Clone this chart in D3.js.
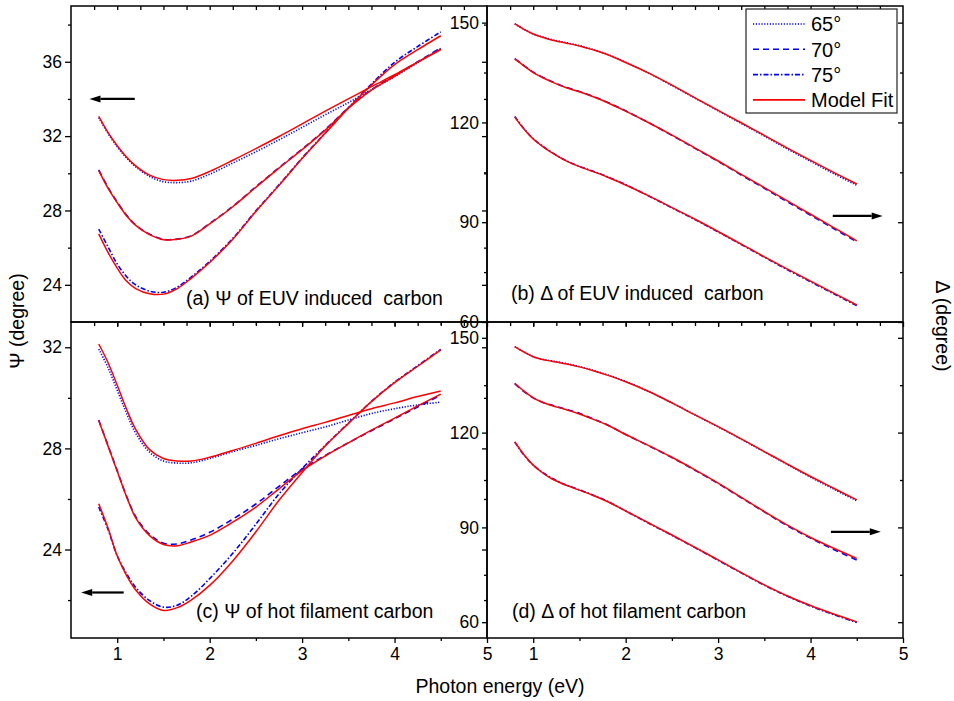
<!DOCTYPE html>
<html>
<head>
<meta charset="utf-8">
<script src="https://cdn.jsdelivr.net/npm/d3@7"></script>
<style>
  html, body { margin: 0; padding: 0; background: #fff; }
  svg { display: block; font-family: "Liberation Sans", Arial, sans-serif; }
</style>
</head>
<body>
<svg id="chart" width="954" height="701"></svg>
<script>
// Photon energies (eV) of the spectra
const energy = [0.8, 0.9, 1.0, 1.1, 1.2, 1.35, 1.5, 1.65, 1.8, 2.0, 2.25, 2.5, 2.75, 3.0, 3.25, 3.5, 3.75, 4.0, 4.25, 4.5];
const angleLabels = ["65°", "70°", "75°"];
const fitLabel = "Model Fit";
const xTickValues = [1, 2, 3, 4, 5];

// (a) Psi, EUV induced carbon: measured and fitted
const psiEuv65    = [33.0, 32.15, 31.43, 30.83, 30.35, 29.83, 29.55, 29.5, 29.58, 29.95, 30.55, 31.16, 31.8, 32.47, 33.15, 33.8, 34.5, 35.2, 35.95, 36.72];
const psiEuvFit65 = [33.06, 32.2, 31.48, 30.88, 30.4, 29.9, 29.66, 29.62, 29.72, 30.1, 30.7, 31.33, 31.98, 32.66, 33.34, 34.0, 34.66, 35.3, 35.98, 36.65];
const psiEuv70    = [30.18, 29.25, 28.45, 27.75, 27.22, 26.72, 26.45, 26.46, 26.64, 27.3, 28.22, 29.28, 30.3, 31.3, 32.35, 33.52, 34.5, 35.25, 36.0, 36.75];
const psiEuvFit70 = [30.14, 29.2, 28.42, 27.72, 27.2, 26.7, 26.43, 26.45, 26.62, 27.28, 28.2, 29.25, 30.28, 31.27, 32.32, 33.5, 34.48, 35.22, 35.98, 36.68];
const psiEuv75    = [27.0, 26.05, 25.12, 24.45, 24.0, 23.66, 23.6, 23.88, 24.42, 25.26, 26.5, 27.98, 29.38, 30.82, 32.17, 33.52, 34.8, 35.97, 36.82, 37.61];
const psiEuvFit75 = [26.74, 25.75, 24.9, 24.2, 23.8, 23.52, 23.5, 23.8, 24.35, 25.2, 26.45, 27.95, 29.35, 30.8, 32.15, 33.5, 34.75, 35.85, 36.65, 37.4];

// (b) Delta, EUV induced carbon
const deltaEuv65    = [149.6, 148.0, 146.6, 145.7, 144.9, 144.0, 143.1, 141.9, 140.5, 138.1, 134.8, 131.1, 127.3, 123.5, 119.7, 115.9, 112.0, 108.3, 104.6, 101.1];
const deltaEuvFit65 = [149.7, 148.0, 146.6, 145.6, 144.8, 143.9, 143.0, 141.8, 140.4, 138.0, 134.8, 131.2, 127.4, 123.6, 119.9, 116.1, 112.3, 108.6, 105.0, 101.5];
const deltaEuv70    = [139.2, 137.1, 135.1, 133.6, 132.3, 130.6, 129.3, 127.8, 126.1, 123.5, 119.9, 116.1, 112.2, 108.3, 104.2, 100.2, 96.1, 92.1, 88.1, 84.1];
const deltaEuvFit70 = [139.1, 137.0, 135.0, 133.5, 132.2, 130.5, 129.2, 127.7, 126.0, 123.4, 119.9, 116.2, 112.3, 108.4, 104.4, 100.4, 96.4, 92.4, 88.4, 84.4];
const deltaEuv75    = [121.8, 118.1, 115.1, 112.9, 111.0, 108.6, 106.8, 105.3, 103.7, 101.3, 97.9, 94.3, 90.8, 87.1, 83.3, 79.5, 75.7, 72.1, 68.5, 64.9];
const deltaEuvFit75 = [121.6, 118.0, 115.0, 112.8, 110.9, 108.5, 106.7, 105.2, 103.6, 101.2, 97.9, 94.4, 90.9, 87.2, 83.4, 79.6, 75.9, 72.3, 68.7, 65.1];

// (c) Psi, hot filament carbon
const psiHot65    = [31.93, 31.2, 30.3, 29.4, 28.6, 27.85, 27.5, 27.42, 27.43, 27.6, 27.87, 28.12, 28.38, 28.62, 28.85, 29.12, 29.38, 29.57, 29.72, 29.83];
const psiHotFit65 = [32.13, 31.4, 30.5, 29.56, 28.75, 27.95, 27.6, 27.5, 27.5, 27.65, 27.92, 28.2, 28.5, 28.78, 29.03, 29.3, 29.57, 29.8, 30.05, 30.27];
const psiHot70    = [29.12, 28.12, 27.12, 26.12, 25.3, 24.6, 24.25, 24.22, 24.38, 24.68, 25.2, 25.8, 26.5, 27.18, 27.72, 28.22, 28.7, 29.17, 29.64, 30.1];
const psiHotFit70 = [29.1, 28.1, 27.1, 26.1, 25.25, 24.55, 24.2, 24.15, 24.3, 24.56, 25.08, 25.68, 26.4, 27.12, 27.7, 28.22, 28.72, 29.2, 29.68, 30.15];
const psiHot75    = [25.68, 24.8, 23.75, 23.05, 22.5, 21.98, 21.72, 21.8, 22.15, 22.85, 23.85, 25.0, 26.2, 27.2, 28.12, 29.0, 29.86, 30.62, 31.27, 31.92];
const psiHotFit75 = [25.81, 24.85, 23.75, 22.98, 22.4, 21.85, 21.59, 21.7, 22.0, 22.58, 23.55, 24.7, 25.95, 27.05, 28.1, 28.98, 29.85, 30.6, 31.25, 31.9];

// (d) Delta, hot filament carbon
const deltaHot65    = [147.2, 145.5, 144.0, 143.2, 142.7, 141.9, 140.9, 139.7, 138.3, 136.2, 133.0, 129.4, 125.6, 121.8, 117.9, 113.9, 109.9, 105.9, 102.1, 98.4];
const deltaHotFit65 = [147.2, 145.5, 144.0, 143.1, 142.6, 141.8, 140.8, 139.6, 138.2, 136.1, 133.0, 129.4, 125.6, 121.9, 118.0, 114.0, 110.0, 106.1, 102.4, 98.7];
const deltaHot70    = [135.5, 133.0, 131.0, 129.6, 128.7, 127.4, 126.1, 124.3, 122.5, 119.4, 115.8, 112.1, 108.1, 103.9, 99.4, 94.9, 90.5, 86.6, 83.0, 79.7];
const deltaHotFit70 = [135.6, 133.1, 131.0, 129.6, 128.6, 127.3, 125.9, 124.2, 122.4, 119.4, 115.9, 112.2, 108.2, 104.0, 99.5, 95.0, 90.7, 86.8, 83.4, 80.2];
const deltaHot75    = [117.0, 112.9, 109.7, 107.4, 105.6, 103.5, 101.9, 100.2, 98.3, 95.2, 91.3, 87.5, 83.6, 79.6, 75.6, 71.7, 68.2, 65.1, 62.4, 59.9];
const deltaHotFit75 = [117.1, 113.0, 109.7, 107.3, 105.4, 103.4, 101.8, 100.1, 98.2, 95.2, 91.4, 87.6, 83.7, 79.7, 75.7, 71.8, 68.3, 65.3, 62.6, 60.1];

// Panel layout (pixels)
const colX = [[71, 487], [487, 903]];
const rowY = [[6, 322], [322, 638]];
const FONT_TICK = 17.5;
const FONT_TEXT = 19.5;
const BLUE = "#0000ff";
const RED = "#ff0000";
const dashStyles = ["1.2,1.6", "6,4", "5,2,1.5,2"];

const panels = [
  { col: 0, row: 0, yDomain: [22, 39], yMajor: [24, 28, 32, 36], yMinor: [26, 30, 34, 38],
    data: [psiEuv65, psiEuv70, psiEuv75], fit: [psiEuvFit65, psiEuvFit70, psiEuvFit75],
    label: "(a) \u03A8 of EUV induced  carbon", labelAt: [115, -17],
    arrow: { from: [1.19, 34.0], to: [0.7, 34.0] } },
  { col: 1, row: 0, yDomain: [60, 155], yMajor: [60, 90, 120, 150], yMinor: [75, 105, 135],
    data: [deltaEuv65, deltaEuv70, deltaEuv75], fit: [deltaEuvFit65, deltaEuvFit70, deltaEuvFit75],
    label: "(b) \u0394 of EUV induced  carbon", labelAt: [24, -22],
    arrow: { from: [4.24, 91.9], to: [4.78, 91.9] } },
  { col: 0, row: 1, yDomain: [20.5, 33], yMajor: [24, 28, 32], yMinor: [22, 26, 30],
    data: [psiHot65, psiHot70, psiHot75], fit: [psiHotFit65, psiHotFit70, psiHotFit75],
    label: "(c) \u03A8 of hot filament carbon", labelAt: [125, -20],
    arrow: { from: [1.07, 22.3], to: [0.61, 22.3] } },
  { col: 1, row: 1, yDomain: [55, 155], yMajor: [60, 90, 120, 150], yMinor: [75, 105, 135],
    data: [deltaHot65, deltaHot70, deltaHot75], fit: [deltaHotFit65, deltaHotFit70, deltaHotFit75],
    label: "(d) \u0394 of hot filament carbon", labelAt: [25, -20],
    arrow: { from: [4.22, 88.6], to: [4.76, 88.6] } }
];

const svg = d3.select("#chart");
const xMajor = xTickValues;
const xMinorBottom = [1.5, 2.5, 3.5, 4.5];
const xMinorTop = d3.range(0.75, 5.0, 0.25);

function styleAxis(g, withText) {
  g.select(".domain").remove();
  g.selectAll(".tick line").attr("stroke", "#000").attr("stroke-width", 1.3);
  if (withText) {
    g.selectAll(".tick text").attr("fill", "#000").attr("font-size", FONT_TICK)
      .attr("font-family", "Liberation Sans, Arial, sans-serif");
  } else {
    g.selectAll(".tick text").remove();
  }
}

panels.forEach(p => {
  const [x0, x1] = colX[p.col];
  const [y0, y1] = rowY[p.row];
  const x = d3.scaleLinear().domain([0.5, 5]).range([x0, x1]);
  const y = d3.scaleLinear().domain(p.yDomain).range([y1, y0]);
  const g = svg.append("g");

  // Curves: measured spectra first, model fits drawn over them
  const line = d3.line()
    .x((d, i) => x(energy[i]))
    .y(d => y(d))
    .curve(d3.curveCatmullRom.alpha(0.5));

  p.data.forEach((series, k) => {
    g.append("path").datum(series)
      .attr("d", line).attr("fill", "none")
      .attr("stroke", BLUE).attr("stroke-width", 1.6)
      .attr("stroke-dasharray", dashStyles[k]);
  });
  p.fit.forEach(series => {
    g.append("path").datum(series)
      .attr("d", line).attr("fill", "none")
      .attr("stroke", RED).attr("stroke-width", 1.5);
  });

  // Bottom axis: outward ticks, labels only on the lower row
  const bottomMajor = g.append("g").attr("transform", `translate(0,${y1})`)
    .call(d3.axisBottom(x).tickValues(xMajor).tickSize(5).tickSizeOuter(0).tickPadding(5).tickFormat(d3.format("d")));
  styleAxis(bottomMajor, p.row === 1);
  const bottomMinor = g.append("g").attr("transform", `translate(0,${y1})`)
    .call(d3.axisBottom(x).tickValues(xMinorBottom).tickSize(3).tickSizeOuter(0));
  styleAxis(bottomMinor, false);

  // Top axis: inward ticks
  const topAxis = g.append("g").attr("transform", `translate(0,${y0})`)
    .call(d3.axisTop(x).tickValues(xMinorTop).tickSize(-4).tickSizeOuter(0));
  styleAxis(topAxis, false);

  // Left axis: outward ticks with labels
  const leftMajor = g.append("g").attr("transform", `translate(${x0},0)`)
    .call(d3.axisLeft(y).tickValues(p.yMajor).tickSize(p.col === 0 ? 6 : 5).tickSizeOuter(0).tickPadding(3).tickFormat(d3.format("d")));
  styleAxis(leftMajor, true);
  const leftMinor = g.append("g").attr("transform", `translate(${x0},0)`)
    .call(d3.axisLeft(y).tickValues(p.yMinor).tickSize(3).tickSizeOuter(0));
  styleAxis(leftMinor, false);

  // Right axis: inward ticks
  const rightMajor = g.append("g").attr("transform", `translate(${x1},0)`)
    .call(d3.axisRight(y).tickValues(p.yMajor).tickSize(-5).tickSizeOuter(0));
  styleAxis(rightMajor, false);
  const rightMinor = g.append("g").attr("transform", `translate(${x1},0)`)
    .call(d3.axisRight(y).tickValues(p.yMinor).tickSize(-3).tickSizeOuter(0));
  styleAxis(rightMinor, false);

  // Frame
  g.append("rect").attr("x", x0).attr("y", y0)
    .attr("width", x1 - x0).attr("height", y1 - y0)
    .attr("fill", "none").attr("stroke", "#000").attr("stroke-width", 1.5);

  // Panel caption
  g.append("text")
    .attr("x", x0 + p.labelAt[0]).attr("y", y1 + p.labelAt[1])
    .attr("font-size", FONT_TEXT).attr("fill", "#000")
    .style("white-space", "pre")
    .text(p.label);

  // Arrow pointing to the axis the panel belongs to
  const ax0 = x(p.arrow.from[0]), ay = y(p.arrow.from[1]), ax1 = x(p.arrow.to[0]);
  const dir = Math.sign(ax1 - ax0);
  const headLen = 11, headHalf = 3.5;
  g.append("line")
    .attr("x1", ax0).attr("y1", ay).attr("x2", ax1 - dir * headLen).attr("y2", ay)
    .attr("stroke", "#000").attr("stroke-width", 2.2);
  g.append("path")
    .attr("d", `M${ax1},${ay} L${ax1 - dir * headLen},${ay - headHalf} L${ax1 - dir * headLen},${ay + headHalf} Z`)
    .attr("fill", "#000");
});

// Legend inside panel (b)
const legend = svg.append("g").attr("transform", "translate(746,9)");
legend.append("rect").attr("width", 151).attr("height", 104)
  .attr("fill", "#fff").attr("stroke", "#222").attr("stroke-width", 1.2);
const legendItems = angleLabels.map((lab, k) => ({ lab, color: BLUE, dash: dashStyles[k], w: 1.6 }))
  .concat([{ lab: fitLabel, color: RED, dash: null, w: 1.6 }]);
legendItems.forEach((it, k) => {
  const cy = 15 + k * 25.3;
  legend.append("line").attr("x1", 7).attr("x2", 59).attr("y1", cy).attr("y2", cy)
    .attr("stroke", it.color).attr("stroke-width", it.w)
    .attr("stroke-dasharray", it.dash);
  legend.append("text").attr("x", 65).attr("y", cy).attr("dy", "0.36em")
    .attr("font-size", 20).attr("fill", "#000").text(it.lab);
});

// Axis titles
svg.append("text").attr("x", 500).attr("y", 693).attr("text-anchor", "middle")
  .attr("font-size", FONT_TEXT).attr("fill", "#000").text("Photon energy (eV)");
svg.append("text").attr("transform", "translate(24,321) rotate(-90)").attr("text-anchor", "middle")
  .attr("font-size", FONT_TEXT).attr("fill", "#000").text("\u03A8 (degree)");
svg.append("text").attr("transform", "translate(936,326) rotate(90)").attr("text-anchor", "middle")
  .attr("font-size", FONT_TEXT).attr("fill", "#000").text("\u0394 (degree)");
</script>
</body>
</html>
